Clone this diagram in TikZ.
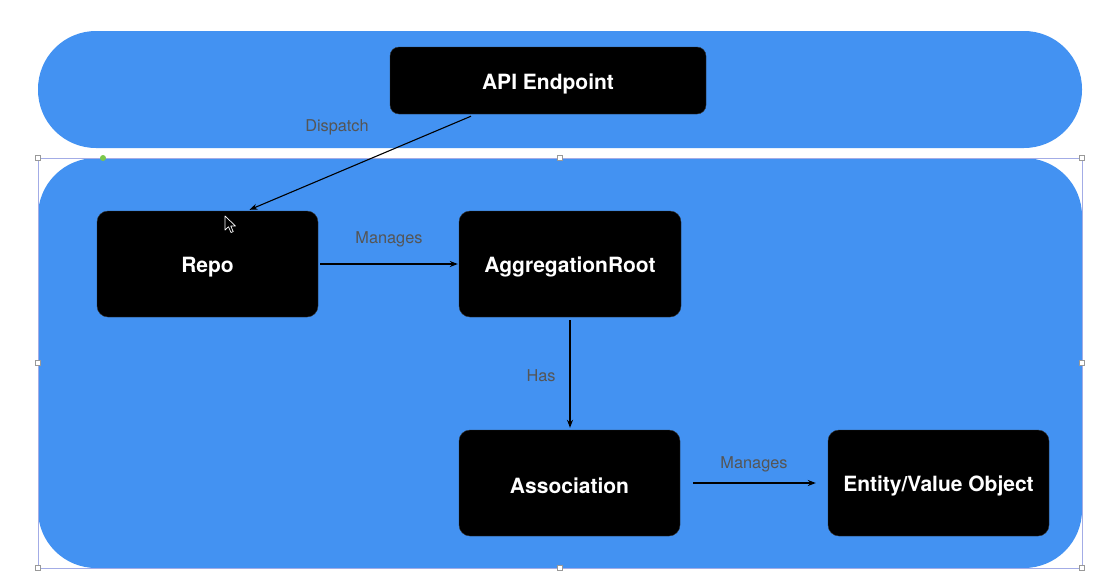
\documentclass[tikz,border=0pt]{standalone}
\usepackage{fontspec}
\setmainfont{TeX Gyre Heros}
\usetikzlibrary{arrows.meta,calc}
\definecolor{bandblue}{HTML}{4392F2}
\definecolor{labelgray}{HTML}{555555}
\definecolor{selframe}{HTML}{A3ACE6}
\definecolor{dotgreen}{HTML}{7CC84A}
\newcommand{\boxtxt}[1]{\raisebox{-3pt}[\height][\depth]{#1}}
\tikzset{
  band/.style={fill=bandblue, draw=none},
  blackbox/.style={fill=black, draw=black!80, rounded corners=11pt, text=white,
    font=\fontsize{21}{24}\selectfont\bfseries, inner sep=0pt},
  conn/.style={draw=black, line width=1.1pt, -{Stealth[length=8pt,width=6pt]}},
  lbl/.style={text=labelgray, font=\fontsize{16.3}{19}\selectfont, inner sep=0pt},
  handle/.style={draw=gray!80, fill=white, line width=0.6pt, minimum size=5.5pt, inner sep=0pt},
}
\begin{document}
\begin{tikzpicture}[x=1pt,y=-1pt]
\useasboundingbox (0,0) rectangle (1112,584);
\fill[white] (0,0) rectangle (1112,584);
% bands
\fill[band, rounded corners=58pt] (38,31) rectangle (1082,148);
\fill[band, rounded corners=58pt] (38,158) rectangle (1082,568);
% selection frame
\draw[selframe, line width=0.8pt] (38,158) rectangle (1082,568);
% boxes
\node[blackbox, minimum width=316pt, minimum height=67pt, rounded corners=9pt] (api) at (548,80.5) {\boxtxt{API Endpoint}};
\node[blackbox, minimum width=221pt, minimum height=106pt] (repo) at (207.5,264) {\boxtxt{Repo}};
\node[blackbox, minimum width=222pt, minimum height=106pt] (agg) at (570,264) {\boxtxt{AggregationRoot}};
\node[blackbox, minimum width=221pt, minimum height=106pt] (assoc) at (569.5,483) {\boxtxt{Association}};
\node[blackbox, minimum width=221pt, minimum height=106pt] (ent) at (938.5,483) {\boxtxt{Entity/Value Object}};
% connectors
\draw[conn] ($(api.south)+(-77,2)$) -- ($(repo.north)+(42,-1)$);
\draw[conn, shorten <=2pt, shorten >=1pt] (repo.east) -- (agg.west);
\draw[conn, shorten <=3pt, shorten >=2pt] (agg.south) -- (agg.south |- assoc.north);
\draw[conn, shorten <=13pt, shorten >=12pt] (assoc.east) -- (ent.west);
% labels
\node[lbl] (ldispatch) at (337,127) {Dispatch};
\node[lbl] (lmanages1) at (389,239) {Manages};
\node[lbl] (lhas) at (541,376) {Has};
\node[lbl] (lmanages2) at (754,464) {Manages};
% selection handles
\foreach \p/\n in {{(38,158)}/h1,{(560,158)}/h2,{(1082,158)}/h3,{(38,363)}/h4,{(1082,363)}/h5,{(38,568)}/h6,{(560,568)}/h7,{(1082,568)}/h8}
  \node[handle] (\n) at \p {};
\fill[dotgreen] (103,158) circle (3pt);
% mouse cursor
\filldraw[fill=black, draw=white, line width=0.7pt, line join=round]
  (225,216) -- (225,230) -- (228.5,226.8) -- (231,232.5) -- (233.2,231.6) -- (230.8,226) -- (235.5,226) -- cycle;
\end{tikzpicture}
\end{document}
